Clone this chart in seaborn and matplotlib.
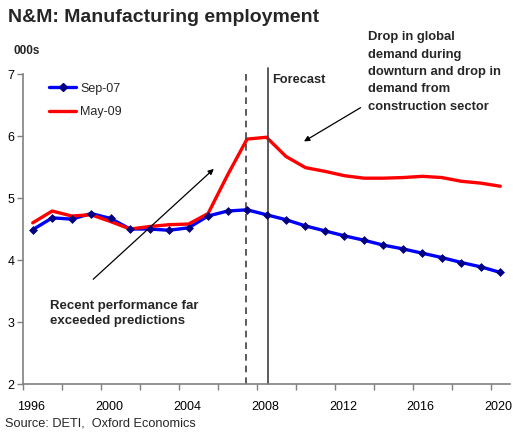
import matplotlib
matplotlib.use("Agg")
import matplotlib.pyplot as plt
from matplotlib.lines import Line2D
import seaborn as sns
import pandas as pd

years = list(range(1996, 2021))
sep07 = [4.49, 4.68, 4.66, 4.75, 4.67, 4.50, 4.50, 4.48, 4.52, 4.71, 4.79, 4.81,
         4.73, 4.65, 4.55, 4.47, 4.39, 4.32, 4.24, 4.18, 4.11, 4.04, 3.96, 3.89, 3.80]
may09 = [4.60, 4.79, 4.71, 4.73, 4.62, 4.50, 4.54, 4.57, 4.58, 4.75, 5.37, 5.95,
         5.98, 5.67, 5.49, 5.43, 5.36, 5.32, 5.32, 5.33, 5.35, 5.33, 5.27, 5.24, 5.19]
series_names = ["Sep-07", "May-09"]
tick_years = list(range(1996, 2021, 2))
label_years = list(range(1996, 2021, 4))
y_ticks = [2, 3, 4, 5, 6, 7]

# each annual value sits in the middle of its year's slot
df = pd.DataFrame({
    "year": [y + 0.5 for y in years] * 2,
    "value": sep07 + may09,
    "series": [series_names[0]] * len(years) + [series_names[1]] * len(years),
})

sns.set_style("white")
plt.rcParams["font.family"] = ["Liberation Sans", "DejaVu Sans"]

fig = plt.figure(figsize=(5.13, 4.32), dpi=100)
ax = fig.add_axes([0.0448, 0.111, 0.9494, 0.7177])

BLUE = "#0000FF"
RED = "#FF0000"
NAVY = "#000080"

blue_df = df[df["series"] == series_names[0]]
red_df = df[df["series"] == series_names[1]]

sns.lineplot(data=blue_df, x="year", y="value", color=BLUE, linewidth=2.4, ax=ax,
             legend=False)
sns.lineplot(data=red_df, x="year", y="value", color=RED, linewidth=2.4, ax=ax,
             legend=False)
sns.scatterplot(data=blue_df, x="year", y="value", marker="D", s=16, color=NAVY,
                edgecolor=NAVY, linewidth=0.5, ax=ax, legend=False, zorder=4)

ax.set_xlim(1996, 2021)
ax.set_ylim(2, 7)
# tick marks on slot boundaries, year labels near the middle of their slot
ax.set_xticks(tick_years)
ax.set_xticklabels([])
ax.set_xticks([y + 0.42 for y in label_years], minor=True)
ax.set_xticklabels([str(y) for y in label_years], minor=True)
ax.set_yticks(y_ticks)
ax.set_xlabel("")
ax.set_ylabel("")

for side in ["top", "right"]:
    ax.spines[side].set_visible(False)
for side in ["left", "bottom"]:
    ax.spines[side].set_color("#808080")
    ax.spines[side].set_linewidth(1.2)
ax.tick_params(axis="both", which="major", direction="out", length=4, width=1,
               color="#808080", labelsize=9, labelcolor="black")
ax.tick_params(axis="x", which="minor", length=0, labelsize=9, pad=12,
               labelcolor="black")
ax.tick_params(axis="y", pad=2, left=True)
ax.tick_params(axis="x", which="major", bottom=True)

# forecast markers
ax.axvline(2007.45, ymin=0, ymax=1.01, color="#404040", linestyle=(0, (4, 3)),
           linewidth=1.2, clip_on=False)
ax.axvline(2008.58, ymin=0, ymax=1.02, color="#404040", linewidth=1.2, clip_on=False)
ax.text(2008.8, 6.9, "Forecast", fontsize=9.2, fontweight="bold", va="center",
        ha="left")

# annotations
ax.annotate("", xy=(2005.9, 5.50), xytext=(1999.5, 3.66),
            arrowprops=dict(arrowstyle="-|>", color="black", lw=0.9,
                            mutation_scale=8))
ax.text(1997.4, 3.14, "Recent performance far\nexceeded predictions", fontsize=9.5,
        fontweight="bold", va="center", ha="left", linespacing=1.4)

ax.annotate("", xy=(2010.3, 5.89), xytext=(2013.45, 6.48),
            arrowprops=dict(arrowstyle="-|>", color="black", lw=0.9,
                            mutation_scale=8))
fig.text(368 / 513, 1 - 72 / 432,
         "Drop in global\ndemand during\ndownturn and drop in\ndemand from\nconstruction sector",
         fontsize=9.4, fontweight="bold", va="center", ha="left", linespacing=1.6)

# legend
handles = [
    Line2D([0], [0], color=BLUE, lw=2.4, marker="D", markersize=4,
           markerfacecolor=NAVY, markeredgecolor=NAVY),
    Line2D([0], [0], color=RED, lw=2.4),
]
ax.legend(handles, series_names, loc="upper left", bbox_to_anchor=(0.03, 1.008),
          frameon=False, fontsize=9, handlelength=2.2, handletextpad=0.3,
          labelspacing=0.9)

fig.text(8 / 513, 1 - 18 / 432, "N&M: Manufacturing employment", fontsize=14,
         fontweight="bold", va="center", ha="left")
fig.text(13 / 513, 1 - 51 / 432, "000s", fontsize=8.5, fontweight="bold",
         va="center", ha="left")
fig.text(5 / 513, 1 - 424 / 432, "Source: DETI,  Oxford Economics", fontsize=9.2,
         va="center", ha="left")

fig.savefig("out.png", dpi=100)
